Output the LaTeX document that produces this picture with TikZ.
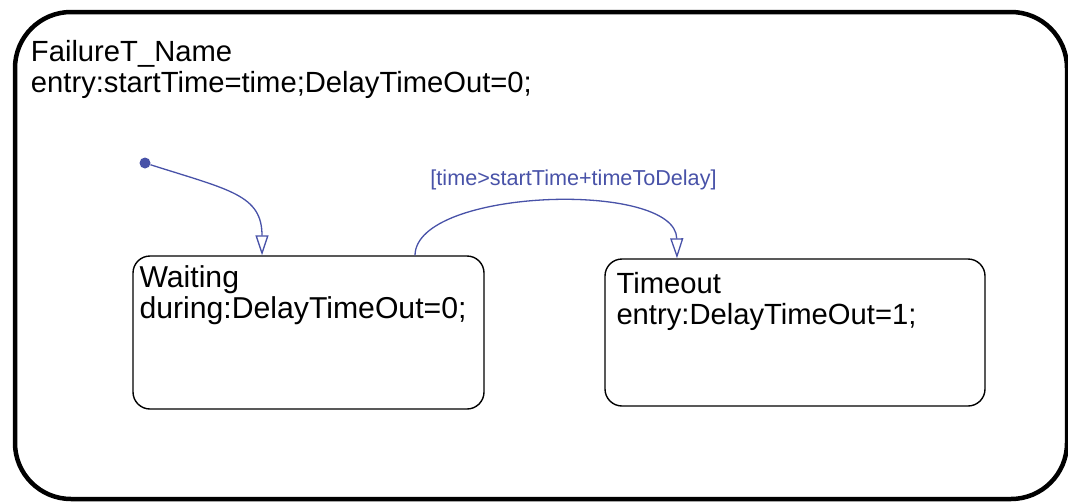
\documentclass[tikz,border=0pt]{standalone}
\usepackage{fontspec}
\setmainfont{Liberation Sans}
\usepackage{tikz}
\usetikzlibrary{arrows.meta}
\definecolor{transblue}{RGB}{72,82,168}

\begin{document}
\begin{tikzpicture}[x=1pt,y=-1pt,
                    chart/.style={draw,line width=4.5pt,rounded corners=56pt,inner sep=0pt},
                    state/.style={draw,line width=1.4pt,rounded corners=17pt,inner sep=0pt},
                    txt/.style={anchor=north west,inner sep=0pt,align=left,
                                font=\fontsize{29.2}{31}\selectfont},
                    trans/.style={draw=transblue,line width=1.3pt,
                                  -{Triangle[open,length=20pt,width=13pt]}}]

\useasboundingbox (0,0) rectangle (1068,501);

\draw node[chart,minimum width=1052pt,minimum height=487pt] (FAIL) at (541,255.5) {}
      node[state,minimum width=351pt,minimum height=153pt] (WAIT) at (308.5,332.5) {}
      node[state,minimum width=380pt,minimum height=147pt] (TOUT) at (795,332.5) {};

\node[txt] (FAILtxt) at ([shift={(18,30)}]FAIL.north west)
      {FailureT\_Name\\entry:startTime=time;DelayTimeOut=0;};
\node[txt,font=\fontsize{30.2}{31}\selectfont] (WAITtxt) at ([shift={(7,10)}]WAIT.north west)
      {Waiting\\during:DelayTimeOut=0;};
\node[txt] (TOUTtxt) at ([shift={(12,14)}]TOUT.north west)
      {Timeout\\entry:DelayTimeOut=1;};

\node[circle,fill=transblue,inner sep=0pt,minimum size=11pt] (INIT) at (145,163) {};

\draw[trans] (INIT) .. controls (230,190) and (262,195) .. ([xshift=-46.5]WAIT.north);

\draw[trans] ([xshift=106.5]WAIT.north) .. controls (416,188) and (676,180)
             .. ([xshift=-118]TOUT.north);
\node[text=transblue,inner sep=0pt,font=\fontsize{21.6}{23}\selectfont] (GUARD)
      at (573.5,180) {[time>startTime+timeToDelay]};

\end{tikzpicture}
\end{document}
